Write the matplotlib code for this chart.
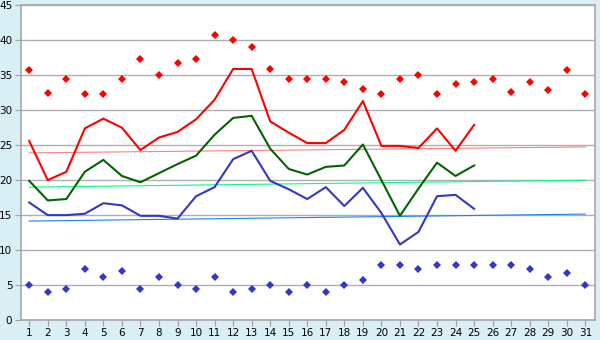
import matplotlib.pyplot as plt
import numpy as np

days = np.arange(1, 32)

# daily maximum / mean / minimum of the month (1..25 recorded)
tmax = [25.6, 20.0, 21.2, 27.4, 28.8, 27.5, 24.3, 26.1, 26.9, 28.7,
        31.5, 35.9, 35.9, 28.4, 26.8, 25.3, 25.3, 27.2, 31.3, 24.9,
        24.9, 24.6, 27.4, 24.2, 27.9]
tmean = [19.9, 17.1, 17.3, 21.2, 22.9, 20.6, 19.7, 21.0, 22.3, 23.5,
         26.5, 28.9, 29.2, 24.5, 21.6, 20.8, 21.9, 22.1, 25.1, 20.0,
         14.9, 18.8, 22.5, 20.6, 22.1]
tmin = [16.8, 15.0, 15.0, 15.2, 16.7, 16.4, 14.9, 14.9, 14.5, 17.7,
        19.0, 23.0, 24.2, 19.9, 18.7, 17.3, 19.0, 16.3, 18.9, 15.3,
        10.8, 12.6, 17.7, 17.9, 15.9]

# record values per day
rec_max = [35.7, 32.4, 34.4, 32.3, 32.3, 34.4, 37.3, 35.0, 36.7, 37.3,
           40.7, 40.0, 39.0, 35.9, 34.4, 34.4, 34.4, 34.0, 33.1, 32.3,
           34.4, 35.0, 32.3, 33.7, 34.0, 34.4, 32.6, 34.0, 32.9, 35.7,
           32.3]
rec_min = [5.0, 4.0, 4.4, 7.3, 6.1, 7.0, 4.4, 6.1, 5.0, 4.4,
           6.1, 4.0, 4.4, 5.0, 4.0, 5.0, 4.0, 5.0, 5.7, 7.9,
           7.9, 7.3, 7.9, 7.9, 7.9, 7.9, 7.9, 7.3, 6.1, 6.7,
           5.0]

# normals at start and end of month
norm_days = [1, 31]
norm_max = [23.9, 24.75]
norm_mean = [19.0, 20.0]
norm_min = [14.15, 15.15]

bg = '#d9eef5'
fig = plt.figure(figsize=(6, 3.4), dpi=100, facecolor=bg)
ax = fig.add_axes([0.0345, 0.0588, 0.9577, 0.9255])
ax.set_facecolor('white')

ax.plot(norm_days, norm_max, color='#ff8080', lw=0.8)
ax.plot(norm_days, norm_mean, color='#00ff80', lw=0.8)
ax.plot(norm_days, norm_min, color='#1e80ff', lw=0.8)

d = days[:len(tmax)]
ax.plot(d, tmax, color='#ff0000', lw=1.5)
ax.plot(d, tmean, color='#006400', lw=1.5)
ax.plot(d, tmin, color='#3535c8', lw=1.5)

ax.plot(days, rec_max, 'D', color='#ff0000', ms=3.8, mew=0)
ax.plot(days, rec_min, 'D', color='#3535c8', ms=3.8, mew=0)

ax.set_xlim(0.54, 31.54)
ax.set_ylim(0, 45)
ax.set_xticks(days)
ax.set_yticks(np.arange(0, 46, 5))
ax.grid(axis='y', color='#b0b0b0', lw=1)
ax.set_axisbelow(True)
ax.tick_params(colors='#a0a0a0', labelcolor='black', labelsize=7.5, length=4, pad=2)
for s in ax.spines.values():
    s.set_color('#a8a8a8')
    s.set_linewidth(1.2)

fig.savefig('out.png', dpi=100, facecolor=bg)
